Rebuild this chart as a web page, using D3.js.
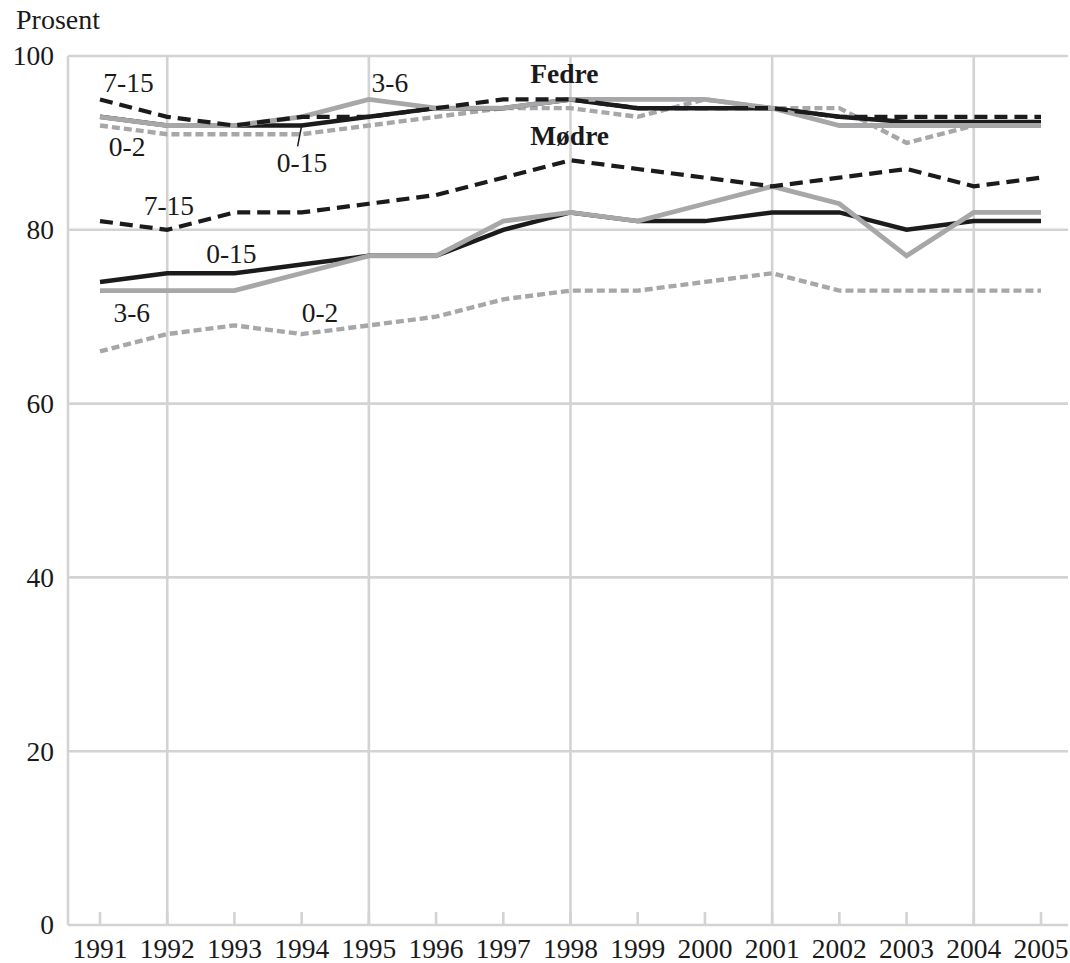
<!DOCTYPE html>
<html>
<head>
<meta charset="utf-8">
<script src="https://cdn.jsdelivr.net/npm/d3@7"></script>
<style>
  html, body { margin: 0; padding: 0; background: #fff; }
  svg { display: block; }
  text { font-family: "Liberation Serif", "DejaVu Serif", serif; fill: #1a1a1a; }
</style>
</head>
<body>
<svg id="chart" width="1070" height="963"></svg>
<script>
// ---------- data ----------
const years = [1991,1992,1993,1994,1995,1996,1997,1998,1999,2000,2001,2002,2003,2004,2005];
const yTicks = [0, 20, 40, 60, 80, 100];
const gridYears = [1992, 1995, 1998, 2001, 2004];

// Fedre (fathers)
const fedre_0_2  = [92, 91, 91, 91, 92, 93, 94, 94, 93, 95, 94, 94, 90, 92, 92];
const fedre_0_15 = [93, 92, 92, 92, 93, 94, 94, 95, 94, 94, 94, 93, 92.4, 92.4, 92.4];
const fedre_3_6  = [93, 92, 92, 93, 95, 94, 94, 95, 95, 95, 94, 92, 92, 92, 92];
const fedre_7_15 = [95, 93, 92, 93, 93, 94, 95, 95, 94, 94, 94, 93, 93, 93, 93];

// Mødre (mothers)
const modre_0_2  = [66, 68, 69, 68, 69, 70, 72, 73, 73, 74, 75, 73, 73, 73, 73];
const modre_0_15 = [74, 75, 75, 76, 77, 77, 80, 82, 81, 81, 82, 82, 80, 81, 81];
const modre_3_6  = [73, 73, 73, 75, 77, 77, 81, 82, 81, 83, 85, 83, 77, 82, 82];
const modre_7_15 = [81, 80, 82, 82, 83, 84, 86, 88, 87, 86, 85, 86, 87, 85, 86];

// series in drawing order
const series = [
  {name: "Mødre 0-2",  values: modre_0_2,  style: "grayDot"},
  {name: "Mødre 0-15", values: modre_0_15, style: "blackSolid"},
  {name: "Mødre 3-6",  values: modre_3_6,  style: "graySolid"},
  {name: "Mødre 7-15", values: modre_7_15, style: "blackDash"},
  {name: "Fedre 0-2",  values: fedre_0_2,  style: "grayDot"},
  {name: "Fedre 0-15", values: fedre_0_15, style: "blackSolid"},
  {name: "Fedre 3-6",  values: fedre_3_6,  style: "graySolid"},
  {name: "Fedre 7-15", values: fedre_7_15, style: "blackDash"}
];

// annotation labels (anchored in data coordinates)
const labels = [
  {text: "7-15", year: 1991.05, value: 95.8},
  {text: "0-2",  year: 1991.13, value: 88.5},
  {text: "3-6",  year: 1995.04, value: 95.8},
  {text: "0-15", year: 1993.63, value: 86.6},
  {text: "Fedre", year: 1997.4, value: 96.9, bold: true},
  {text: "Mødre", year: 1997.4, value: 89.8, bold: true},
  {text: "7-15", year: 1991.65, value: 81.7},
  {text: "0-15", year: 1992.58, value: 76.2},
  {text: "3-6",  year: 1991.2, value: 69.4},
  {text: "0-2",  year: 1994.0, value: 69.4}
];
// leader line for the fathers' 0-15 label
const leader = {from: {year: 1994.0, value: 92.0}, to: {year: 1993.94, value: 89.6}};

// ---------- layout ----------
const svg = d3.select("#chart");
const x = d3.scaleLinear().domain([1991, 2005]).range([100, 1041]);
const y = d3.scaleLinear().domain([0, 100]).range([925, 56]);
const xLeft = 68, xRight = 1068;
const gridColor = "#d3d3d3";
const fs = 27.5;

const styles = {
  blackSolid: {stroke: "#1b1b1b", width: 4.5, dash: null},
  graySolid:  {stroke: "#a7a7a9", width: 4.8, dash: null},
  blackDash:  {stroke: "#1b1b1b", width: 4.2, dash: "13,7"},
  grayDot:    {stroke: "#a7a7a9", width: 4.4, dash: "8,4"}
};

// horizontal grid lines
svg.append("g").selectAll("line").data(yTicks).join("line")
  .attr("x1", xLeft).attr("x2", xRight)
  .attr("y1", d => y(d)).attr("y2", d => y(d))
  .attr("stroke", gridColor).attr("stroke-width", 2.6);

// left frame line
svg.append("line")
  .attr("x1", xLeft).attr("x2", xLeft)
  .attr("y1", y(100)).attr("y2", y(0))
  .attr("stroke", gridColor).attr("stroke-width", 2.6);

// vertical grid lines
svg.append("g").selectAll("line").data(gridYears).join("line")
  .attr("x1", d => x(d)).attr("x2", d => x(d))
  .attr("y1", y(100)).attr("y2", y(0))
  .attr("stroke", gridColor).attr("stroke-width", 2.6);

// small year ticks
svg.append("g").selectAll("line").data(years).join("line")
  .attr("x1", d => x(d)).attr("x2", d => x(d))
  .attr("y1", y(0) - 13).attr("y2", y(0))
  .attr("stroke", gridColor).attr("stroke-width", 2.6);

// y tick labels
svg.append("g").selectAll("text").data(yTicks).join("text")
  .attr("x", 54).attr("y", d => y(d)).attr("dy", "0.34em")
  .attr("text-anchor", "end").attr("font-size", fs)
  .text(d => d);

// x tick labels
svg.append("g").selectAll("text").data(years).join("text")
  .attr("x", d => x(d)).attr("y", 958)
  .attr("text-anchor", "middle").attr("font-size", fs)
  .text(d => d);

// y axis title
svg.append("text").attr("x", 16).attr("y", 29)
  .attr("font-size", 28).text("Prosent");

// lines
const line = d3.line().x((d, i) => x(years[i])).y(d => y(d));
svg.append("g").selectAll("path").data(series).join("path")
  .attr("d", d => line(d.values))
  .attr("fill", "none")
  .attr("stroke", d => styles[d.style].stroke)
  .attr("stroke-width", d => styles[d.style].width)
  .attr("stroke-dasharray", d => styles[d.style].dash)
  .attr("stroke-linejoin", "miter");

// leader line
svg.append("line")
  .attr("x1", x(leader.from.year)).attr("y1", y(leader.from.value))
  .attr("x2", x(leader.to.year)).attr("y2", y(leader.to.value))
  .attr("stroke", "#1b1b1b").attr("stroke-width", 1.5);

// annotation labels
svg.append("g").selectAll("text").data(labels).join("text")
  .attr("x", d => x(d.year)).attr("y", d => y(d.value))
  .attr("font-size", fs)
  .attr("font-weight", d => d.bold ? "bold" : "normal")
  .text(d => d.text);
</script>
</body>
</html>
